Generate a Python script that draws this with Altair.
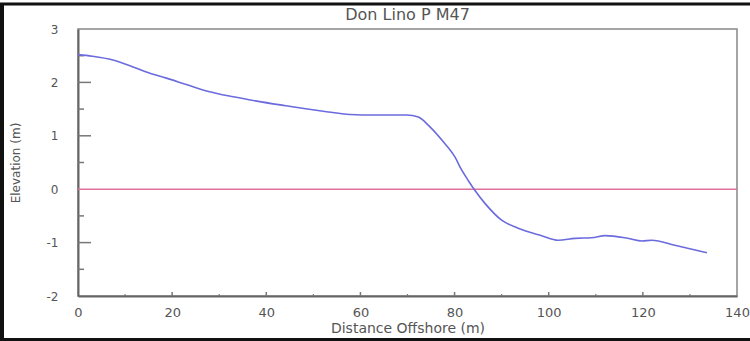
import altair as alt
import pandas as pd

# Profile data
distance = [0, 3, 7.4, 11.7, 15, 18.8, 23, 27.3, 33, 38, 43.6, 48, 52.1, 57.8, 63.1, 69.8,
            72.3, 74.4, 77.3, 80.1, 81.5, 83, 84.3, 86.5, 90, 93.5, 98.5, 102, 105.6, 109.1,
            112, 116.8, 119.8, 121.9, 126.8, 133.6]
elevation = [2.52, 2.49, 2.42, 2.29, 2.18, 2.08, 1.96, 1.84, 1.73, 1.65, 1.57, 1.51, 1.46, 1.40,
             1.39, 1.39, 1.35, 1.20, 0.92, 0.60, 0.36, 0.15, -0.02, -0.27, -0.58, -0.73, -0.87,
             -0.955, -0.92, -0.91, -0.87, -0.92, -0.97, -0.955, -1.05, -1.19]

y_major = [-1, 1, 2]
y_minor = [-1.5, -0.5, 0.5, 1.5, 2.5]
x_major = [20, 40, 60, 80, 100, 120]
x_minor = [10, 30, 50, 70, 90, 110, 130]

W, H = 659, 267
FONT = "DejaVu Sans"
TXT = "#555555"

profile = pd.DataFrame({"d": distance, "e": elevation})

xs = alt.Scale(domain=[0, 140], nice=False, zero=False)
ys = alt.Scale(domain=[-2, 3], nice=False, zero=False)

base_x = alt.X("d:Q", scale=xs, title="Distance Offshore (m)",
               axis=alt.Axis(values=[0, 20, 40, 60, 80, 100, 120, 140], grid=False, ticks=False,
                             tickSize=0, labelPadding=10, labelFontSize=13, titleFontSize=14,
                             titlePadding=2, labelFlush=False, titleFontWeight="normal",
                             labelFont=FONT, titleFont=FONT, labelColor=TXT, titleColor=TXT))
base_y = alt.Y("e:Q", scale=ys, title="Elevation (m)",
               axis=alt.Axis(values=[-2, -1, 0, 1, 2, 3], grid=False, ticks=False, tickSize=0,
                             labelPadding=20, labelFontSize=12, titleFontSize=12,
                             titlePadding=24, labelFlush=False, titleFontWeight="normal",
                             labelExpr="'' + datum.value",
                             labelFont=FONT, titleFont=FONT, labelColor=TXT, titleColor=TXT))

line = alt.Chart(profile).mark_line(color="#6b6bde", strokeWidth=1.6,
                                    interpolate="monotone").encode(x=base_x, y=base_y)

zero = alt.Chart(pd.DataFrame({"e": [0]})).mark_rule(color="#e0709c", strokeWidth=1.6).encode(
    y=alt.Y("e:Q", scale=ys), x=alt.value(0), x2=alt.value(W))

ymaj = alt.Chart(pd.DataFrame({"e": y_major})).mark_rule(color="#777777", strokeWidth=1.5).encode(
    y=alt.Y("e:Q", scale=ys), x=alt.value(0), x2=alt.value(13))
ymin = alt.Chart(pd.DataFrame({"e": y_minor})).mark_rule(color="#777777", strokeWidth=1.5).encode(
    y=alt.Y("e:Q", scale=ys), x=alt.value(0), x2=alt.value(6))
xmaj = alt.Chart(pd.DataFrame({"d": x_major})).mark_rule(color="#777777", strokeWidth=1.5).encode(
    x=alt.X("d:Q", scale=xs), y=alt.value(H), y2=alt.value(H - 4))
xmin = alt.Chart(pd.DataFrame({"d": x_minor})).mark_rule(color="#777777", strokeWidth=1.2).encode(
    x=alt.X("d:Q", scale=xs), y=alt.value(H), y2=alt.value(H - 2))

# outer picture frame (top, left, bottom)
frame_top = alt.Chart(pd.DataFrame({"k": [0]})).mark_rule(color="#111111", strokeWidth=3).encode(
    x=alt.value(-78), x2=alt.value(W + 13), y=alt.value(-25))
frame_left = alt.Chart(pd.DataFrame({"k": [0]})).mark_rule(color="#111111", strokeWidth=4).encode(
    x=alt.value(-76), y=alt.value(-25), y2=alt.value(H + 45))
frame_bot = alt.Chart(pd.DataFrame({"k": [0]})).mark_rule(color="#111111", strokeWidth=3).encode(
    x=alt.value(-78), x2=alt.value(W + 13), y=alt.value(H + 43.5))

chart = alt.layer(zero, ymaj, ymin, xmaj, xmin, line, frame_top, frame_left, frame_bot).properties(
    width=W, height=H,
    title=alt.TitleParams("Don Lino P M47", fontSize=16, font=FONT, color=TXT,
                          fontWeight="normal", anchor="middle", offset=6, dy=26.5),
    autosize=alt.AutoSizeParams(type="none"),
    padding={"left": 78, "top": 29, "right": 13, "bottom": 45},
    background="white",
).configure_view(
    stroke="#888888", strokeWidth=1.5
).configure_axis(
    domainColor="#666666", domainWidth=2
)

chart.save("out.html", embed_options={"renderer": "svg", "actions": False})
